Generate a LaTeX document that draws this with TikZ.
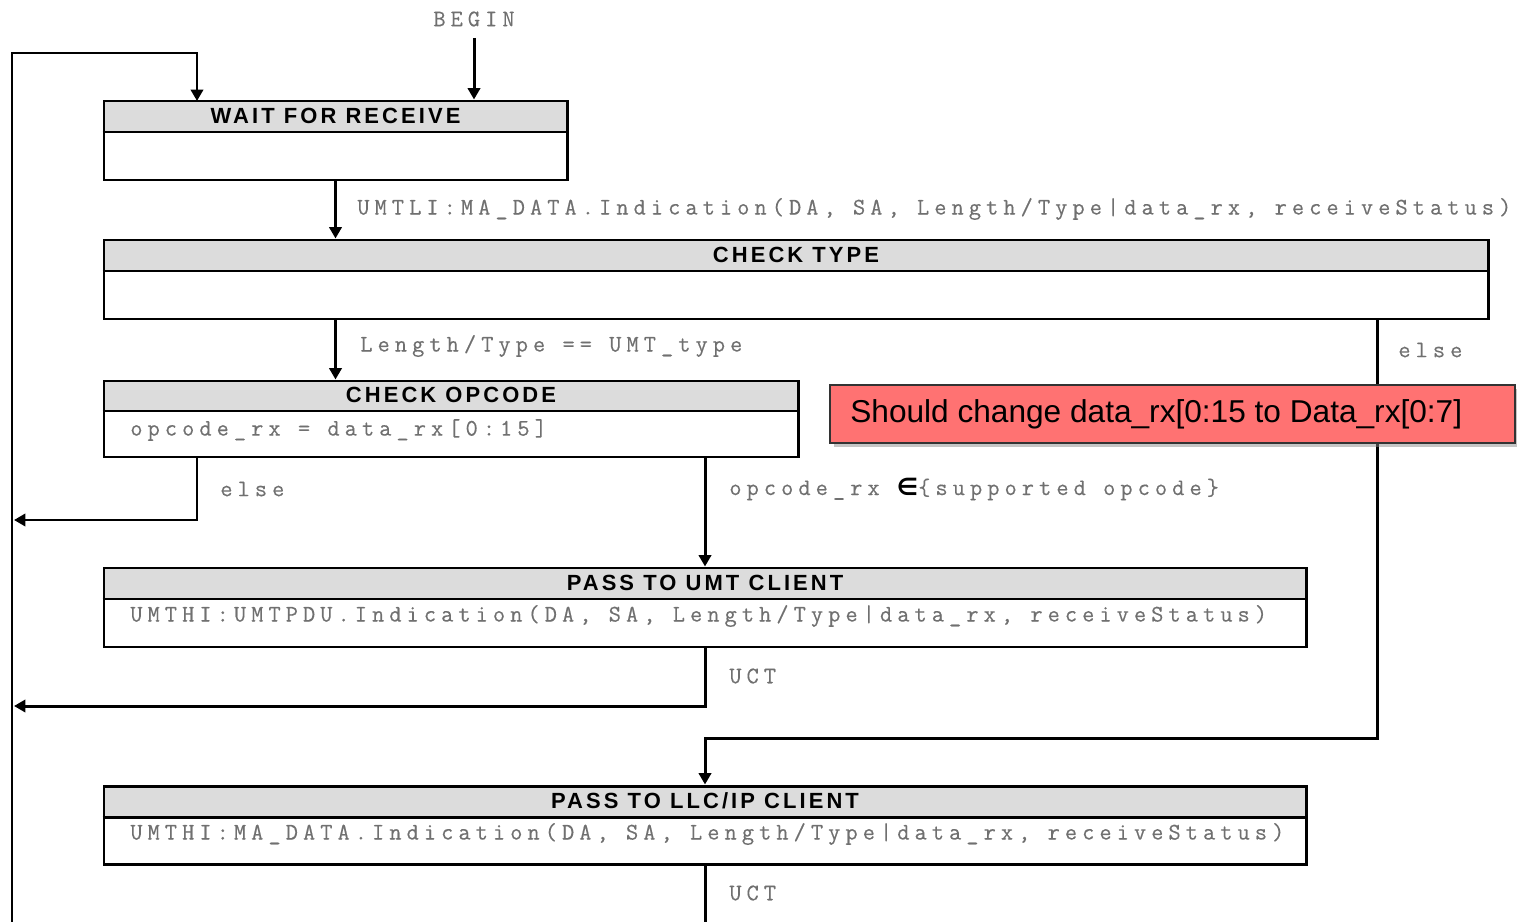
\documentclass[tikz,border=0pt]{standalone}
\usepackage{fontspec}
\setmainfont{Liberation Sans}
\newfontfamily\hdrfont[LetterSpace=14]{Liberation Sans}
\newfontfamily\monofont[LetterSpace=21.3,FakeBold=0.4]{Latin Modern Mono}
\newfontfamily\symfont{DejaVu Sans}
\usetikzlibrary{arrows.meta,fit,calc,shadows}
\definecolor{hdrgray}{HTML}{DCDCDC}
\definecolor{monogray}{HTML}{707070}
\definecolor{notered}{HTML}{FF7272}
\tikzset{
  fsmbox/.style={draw=black, line width=1.7pt, inner sep=0pt},
  boxline/.style={draw=black, line width=1.7pt},
  hdrtext/.style={font=\hdrfont\bfseries\fontsize{12.5}{14}\selectfont, inner sep=0pt, text=black},
  monotext/.style={font=\monofont\fontsize{13.5}{15}\selectfont, text=monogray, inner sep=0pt},
  conn/.style={draw=black, line width=1.7pt},
  arr/.style={conn, -{Triangle[length=6.5pt,width=7pt]}},
  notebox/.style={draw=black!80, line width=1pt, fill=notered, inner sep=0pt, drop shadow={shadow xshift=2pt, shadow yshift=-2pt, fill=black!45}},
}
\newcommand\fsmstate[7]{%
  \fill[hdrgray] (#2,#3) rectangle (#4,#6);
  \node[fsmbox, fit={(#2,#3)(#4,#5)}] (#1) {};
  \draw[boxline] (#1.west |- 0,#6) -- (#1.east |- 0,#6);
  \node[hdrtext] (#1-t) at ($(#1.north)!0.5!(#1.north |- 0,#6)$) {#7};
}
\begin{document}
\begin{tikzpicture}[x=0.02cm, y=-0.02cm]
\useasboundingbox (0,0) rectangle (1517,922);

% states
\fsmstate{wait}{104}{101}{567}{180}{132}{WAIT FOR RECEIVE}
\fsmstate{ctype}{104}{240}{1488}{319}{271}{CHECK TYPE}
\fsmstate{opc}{104}{381}{798}{457}{411}{CHECK OPCODE}
\fsmstate{umt}{104}{568}{1306}{647}{599}{PASS TO UMT CLIENT}
\fsmstate{llc}{104}{786}{1306}{864}{817}{PASS TO LLC/IP CLIENT}

% texts inside boxes
\node[monotext, anchor=west] (opc-b) at (130,430) {opcode\_rx = data\_rx[0:15]};
\node[monotext, anchor=west] (umt-b) at (130,616) {UMTHI:UMTPDU.Indication(DA, SA, Length/Type|data\_rx, receiveStatus)};
\node[monotext, anchor=west] (llc-b) at (130,834) {UMTHI:MA\_DATA.Indication(DA, SA, Length/Type|data\_rx, receiveStatus)};

% begin
\node[monotext] (begin) at (474,19) {BEGIN};
\coordinate (begin-s) at (474,38);
\draw[arr] (begin-s) -- (begin-s |- wait.north);

% loop-back line
\coordinate (loopbot) at (12,922);
\coordinate (looptop) at (12,53);
\coordinate (wait-in) at (197,101);
\draw[arr] (loopbot) -- (looptop) -| (wait-in);

% wait -> check type
\draw[arr] (wait.south) -- (wait.south |- ctype.north);
\node[monotext, anchor=west] (l1) at (357,209) {UMTLI:MA\_DATA.Indication(DA, SA, Length/Type|data\_rx, receiveStatus)};

% check type -> check opcode
\draw[arr] (wait.south |- ctype.south) -- (wait.south |- opc.north);
\node[monotext, anchor=west] (l2) at (360,346) {Length/Type == UMT\_type};

% check opcode else
\coordinate (opc-else) at (197,457);
\coordinate (ret1) at (14,520);
\draw[arr] (opc-else) |- (ret1);
\node[monotext, anchor=west] (l3) at (220,489) {else};

% check opcode -> umt
\draw[arr] (umt.north |- opc.south) -- (umt.north);
\node[monotext, anchor=west] (l4) at (729,489) {opcode\_rx {\symfont\bfseries\color{black}∈}\{supported opcode\}};

% umt UCT
\coordinate (ret2) at (14,706);
\draw[arr] (umt.south) |- (ret2);
\node[monotext, anchor=west] (l5) at (729,676) {UCT};

% check type else -> llc
\coordinate (ct-else) at (1377,319);
\coordinate (ct-turn) at (1377,738);
\draw[arr] (ct-else) -- (ct-turn) -| (llc.north);
\node[monotext, anchor=west] (l6) at (1398,350) {else};

% llc UCT
\coordinate (bot) at (706,922);
\draw[conn] (llc.south) -- (llc.south |- bot);
\node[monotext, anchor=west] (l7) at (729,893) {UCT};

% note
\node[notebox, fit={(830,385)(1515,443)}] (note) {};
\node[font=\fontsize{18}{21}\selectfont, anchor=west, inner sep=0pt] (note-t) at (850,414) {Should change data\_rx[0:15 to Data\_rx[0:7]};
\end{tikzpicture}
\end{document}
